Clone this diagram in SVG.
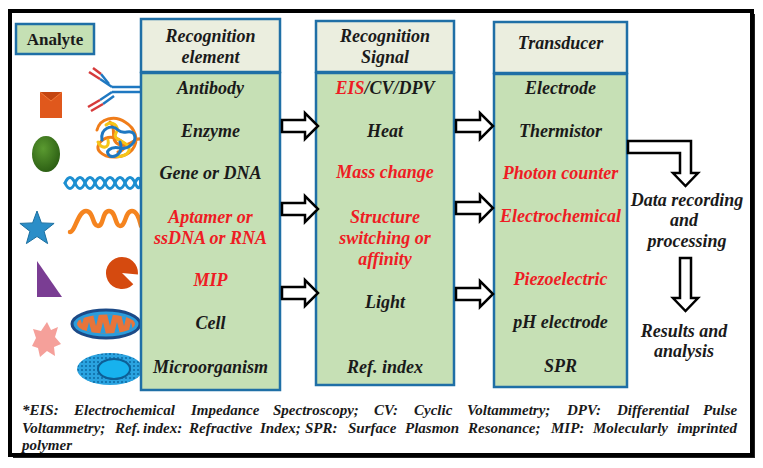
<svg xmlns="http://www.w3.org/2000/svg" width="763" height="468" viewBox="0 0 763 468">
<style>
.t{font-family:"Liberation Serif","Times New Roman",serif;font-weight:bold;font-style:italic;font-size:18px;fill:#1a1a1a;text-anchor:middle}
.r{fill:#ee1c24}
.fn{font-family:"Liberation Serif","Times New Roman",serif;font-weight:bold;font-style:italic;font-size:15px;fill:#1a1a1a}
.hd{fill:#ebeedf;stroke:#1f6fa6;stroke-width:2.5}
.bd{fill:#c6e0b5;stroke:#1f6fa6;stroke-width:2.5}
.ar{fill:#fff;stroke:#000;stroke-width:2.5;stroke-linejoin:miter}
</style>
<defs>
<radialGradient id="gg" cx="0.4" cy="0.35" r="0.7"><stop offset="0" stop-color="#5a9a30"/><stop offset="1" stop-color="#2a5c12"/></radialGradient>
<pattern id="dots" width="4" height="4" patternUnits="userSpaceOnUse"><rect width="4" height="4" fill="#2aa3e0"/><circle cx="2" cy="2" r="1" fill="#0c6aa3"/></pattern>
<clipPath id="cc"><ellipse cx="106" cy="324" rx="29" ry="9.5"/></clipPath>
</defs>
<rect x="13" y="14" width="742" height="444" fill="#222"/>
<rect x="10" y="11" width="742" height="444" fill="#fff" stroke="#000" stroke-width="4"/>

<g id="analyte">
<rect x="16" y="24" width="78" height="30" fill="#c5e0b4" stroke="#1f6fa6" stroke-width="2.5"/>
<text x="55" y="45" style="font-family:'Liberation Serif','Times New Roman',serif;font-weight:bold;font-size:17px;fill:#1a1a1a;text-anchor:middle">Analyte</text>
</g>

<g id="icons">
<rect x="40" y="92" width="22" height="26" fill="#e0581c"/>
<path d="M40,92 L51,101 L62,92" fill="#c44510" stroke="#f07a3a" stroke-width="1"/>
<ellipse cx="46" cy="154" rx="14" ry="18" fill="url(#gg)"/>
<polygon points="37,211 41.4,222.9 54.1,223.4 44.1,231.3 47.6,243.6 37,236.5 26.4,243.6 29.9,231.3 19.9,223.4 32.6,222.9" fill="#2b8ec8" stroke="#1b6fa0" stroke-width="1"/>
<polygon points="37,261 37,297 62,297" fill="#7a3d93"/>
<polygon points="47,322 51,330 58,327 55,337 61,344 54,347 55,356 47,351 40,357 38,348 32,346 36,338 33,329 41,331" fill="#f5a09a"/>
<g fill="none" stroke-width="2.5">
<line x1="112" y1="87" x2="141" y2="87" stroke="#1f78c1"/>
<line x1="112" y1="92" x2="141" y2="92" stroke="#1f78c1"/>
<line x1="112" y1="87" x2="100" y2="79" stroke="#1f78c1"/>
<line x1="100" y1="79" x2="89" y2="72" stroke="#d63a3a"/>
<line x1="109" y1="84" x2="101" y2="74" stroke="#1f78c1"/>
<line x1="101" y1="74" x2="93" y2="68" stroke="#d63a3a"/>
<line x1="112" y1="92" x2="100" y2="100" stroke="#1f78c1"/>
<line x1="100" y1="100" x2="88" y2="107" stroke="#d63a3a"/>
<line x1="114" y1="96" x2="103" y2="104" stroke="#1f78c1"/>
<line x1="103" y1="104" x2="91" y2="111" stroke="#d63a3a"/>
</g>
<g fill="none" stroke-width="2.5" stroke-linecap="round">
<path d="M97,130 C100,118 115,115 125,122 C135,128 140,140 132,150 C125,158 108,160 100,152 C93,145 105,135 115,138 C125,141 128,150 118,152 M110,122 C118,130 108,140 120,145 C130,148 136,135 142,140" stroke="#f07d1a" stroke-width="3"/>
<path d="M106,125 C112,120 120,126 116,133 C112,140 124,140 128,146 C132,152 124,158 116,156 M98,142 C102,150 110,148 108,140" stroke="#f5c518" stroke-width="3"/>
<path d="M102,140 C100,128 112,124 118,130 C124,136 130,128 134,134 C138,142 128,150 120,148 C110,146 104,152 110,156 C116,158 124,152 120,142" stroke="#1e78c2" stroke-width="3"/>
<path d="M65,183 Q70,172 75,183 T85,183 T95,183 T105,183 T115,183 T125,183 T135,183 T141,180" stroke="#1d8fd1" stroke-width="3"/>
<path d="M65,183 Q70,194 75,183 T85,183 T95,183 T105,183 T115,183 T125,183 T135,183 T141,186" stroke="#1d8fd1" stroke-width="3"/>
<path d="M70,232 C75,232 78,211 86,211 C94,211 92,226 98,226 C104,226 102,211 109,211 C116,211 115,226 120,226 C126,226 125,211 132,211 C138,211 140,222 141,226" stroke="#f5841f" stroke-width="4.5"/>
</g>
<path d="M122,273 L137.9,274.4 A16,16 0 1,0 133.3,284.3 Z" fill="#d54a0f"/>
<ellipse cx="106" cy="324" rx="34" ry="14" fill="#2a9ddc" stroke="#1c4a87" stroke-width="3"/>
<ellipse cx="106" cy="324" rx="29" ry="9.5" fill="#e8743a"/>
<g clip-path="url(#cc)" fill="#2a9ddc">
<path d="M79,314 L82,324 L85,314 Z M86,334 L89,322 L92,334 Z M93,314 L96,326 L99,314 Z M100,334 L103,322 L106,334 Z M107,314 L110,326 L113,314 Z M114,334 L117,322 L120,334 Z M121,314 L124,326 L127,314 Z M128,334 L131,322 L134,334 Z"/>
</g>
<ellipse cx="110" cy="369" rx="33" ry="16" fill="url(#dots)"/>
<ellipse cx="114" cy="369" rx="16" ry="10" fill="#17b2ee" stroke="#0d5f96" stroke-width="2"/>
</g>

<g id="recognition-element">
<rect class="hd" x="141" y="19" width="139" height="53"/>
<rect class="bd" x="141" y="73" width="139" height="317"/>
<text class="t" x="210.5" y="42">Recognition</text>
<text class="t" x="210.5" y="63">element</text>
<text class="t" x="210.5" y="94">Antibody</text>
<text class="t" x="210.5" y="137">Enzyme</text>
<text class="t" x="210.5" y="179">Gene or DNA</text>
<text class="t r" x="210.5" y="223">Aptamer or</text>
<text class="t r" x="210.5" y="244">ssDNA or RNA</text>
<text class="t r" x="210.5" y="286">MIP</text>
<text class="t" x="210.5" y="329">Cell</text>
<text class="t" x="210.5" y="373">Microorganism</text>
</g>

<g id="recognition-signal">
<rect class="hd" x="316" y="21" width="138" height="51"/>
<rect class="bd" x="316" y="73" width="138" height="312"/>
<text class="t" x="385" y="42">Recognition</text>
<text class="t" x="385" y="63">Signal</text>
<text class="t" x="385" y="94"><tspan class="r">EIS</tspan>/CV/DPV</text>
<text class="t" x="385" y="137">Heat</text>
<text class="t r" x="385" y="178">Mass change</text>
<text class="t r" x="385" y="223">Structure</text>
<text class="t r" x="385" y="244">switching or</text>
<text class="t r" x="385" y="265">affinity</text>
<text class="t" x="385" y="308">Light</text>
<text class="t" x="385" y="373">Ref. index</text>
</g>

<g id="transducer">
<rect class="hd" x="494" y="22" width="133" height="51"/>
<rect class="bd" x="494" y="74" width="133" height="313"/>
<text class="t" x="560.5" y="49">Transducer</text>
<text class="t" x="560.5" y="94">Electrode</text>
<text class="t" x="560.5" y="137">Thermistor</text>
<text class="t r" x="560.5" y="179">Photon counter</text>
<text class="t r" x="560.5" y="222">Electrochemical</text>
<text class="t r" x="560.5" y="285">Piezoelectric</text>
<text class="t" x="560.5" y="328">pH electrode</text>
<text class="t" x="560.5" y="372">SPR</text>
</g>

<g id="output">
<text class="t" x="687" y="206">Data recording</text>
<text class="t" x="684" y="226">and</text>
<text class="t" x="687" y="247">processing</text>
<text class="t" x="684" y="337">Results and</text>
<text class="t" x="684" y="357">analysis</text>
</g>

<g id="connectors">
<polygon class="ar" points="282,120 305,120 305,113 318,126 305,139 305,132 282,132"/>
<polygon class="ar" points="282,203 305,203 305,196 318,209 305,222 305,215 282,215"/>
<polygon class="ar" points="282,287 305,287 305,280 318,293 305,306 305,299 282,299"/>
<polygon class="ar" points="456,120 480,120 480,113 493,126 480,139 480,132 456,132"/>
<polygon class="ar" points="456,202 480,202 480,195 493,208 480,221 480,214 456,214"/>
<polygon class="ar" points="456,288 480,288 480,281 493,294 480,307 480,300 456,300"/>
<polygon class="ar" points="628,141 691,141 691,173 698,173 685.5,186 673,173 680,173 680,153 628,153"/>
<polygon class="ar" points="680,258 691,258 691,298 698,298 685.5,311 673,298 680,298"/>
</g>

<g id="footnote">
<text class="fn" y="415"><tspan x="22">*EIS:</tspan><tspan x="74">Electrochemical</tspan><tspan x="191">Impedance</tspan><tspan x="273">Spectroscopy;</tspan><tspan x="374">CV:</tspan><tspan x="414">Cyclic</tspan><tspan x="467">Voltammetry;</tspan><tspan x="567">DPV:</tspan><tspan x="617">Differential</tspan><tspan x="703">Pulse</tspan></text>
<text class="fn" y="433"><tspan x="22">Voltammetry;</tspan><tspan x="115">Ref.</tspan><tspan x="143">index:</tspan><tspan x="189">Refractive</tspan><tspan x="260">Index;</tspan><tspan x="305">SPR:</tspan><tspan x="348">Surface</tspan><tspan x="405">Plasmon</tspan><tspan x="468">Resonance;</tspan><tspan x="551">MIP:</tspan><tspan x="593">Molecularly</tspan><tspan x="677">imprinted</tspan></text>
<text class="fn" x="22" y="450">polymer</text>
</g>
</svg>
